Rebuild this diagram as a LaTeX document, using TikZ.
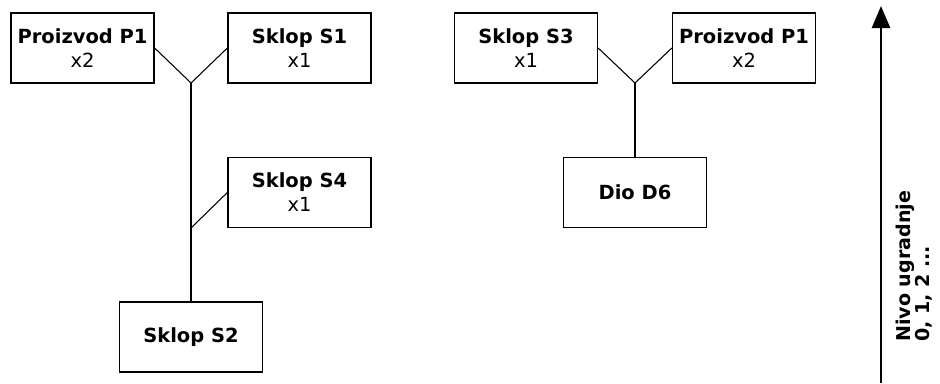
\documentclass[tikz,border=0pt]{standalone}
\usepackage{fontspec}
\setmainfont{DejaVu Sans}
\usetikzlibrary{arrows.meta}

\tikzset{
  part/.style={draw, line width=1pt, minimum width=107.25pt, minimum height=52.5pt,
    inner sep=0pt, align=center, font=\fontsize{14.6pt}{18pt}\selectfont},
  link/.style={line width=0.8pt},
  levelaxis/.style={line width=1.9pt, -{Triangle[length=16.5pt, width=13.5pt]}},
  levellabel/.style={rotate=90, anchor=base west, inner sep=0pt,
    font=\fontsize{14.3pt}{17pt}\selectfont\bfseries},
}

\begin{document}
\begin{tikzpicture}[x=0.75pt, y=-0.75pt]
  \useasboundingbox (0,0) rectangle (940,383);

  % left structure: S2 built from P1 and S1, with S4
  \node[part] (p1a) at (82.5,48)   {\textbf{Proizvod P1}\\x2};
  \node[part] (s1)  at (299.5,48)  {\textbf{Sklop S1}\\x1};
  \node[part] (s4)  at (299.5,192.5) {\textbf{Sklop S4}\\x1};
  \node[part] (s2)  at (191,337)   {\textbf{Sklop S2}};
  \coordinate (ja) at (191,83);
  \coordinate (jb) at (191,228);
  \draw[link] (p1a.east) -- (ja) -- (s1.west);
  \draw[link] (ja) -- (s2.north);
  \draw[link] (s4.west) -- (jb);

  % right structure: D6 built from S3 and P1
  \node[part] (s3)  at (526,48)    {\textbf{Sklop S3}\\x1};
  \node[part] (p1b) at (744,48)    {\textbf{Proizvod P1}\\x2};
  \node[part] (d6)  at (635,192.5) {\textbf{Dio D6}};
  \coordinate (jc) at (635,83);
  \draw[link] (s3.east) -- (jc) -- (p1b.west);
  \draw[link] (jc) -- (d6.north);

  % level axis
  \coordinate (axisfoot) at (881,383);
  \coordinate (axistop) at (881,6);
  \draw[levelaxis] (axisfoot) -- (axistop);
  \node[levellabel] (lvl1) at (910,342) {Nivo ugradnje};
  \node[levellabel] (lvl2) at (929,342) {0, 1, 2 ...};
\end{tikzpicture}
\end{document}
